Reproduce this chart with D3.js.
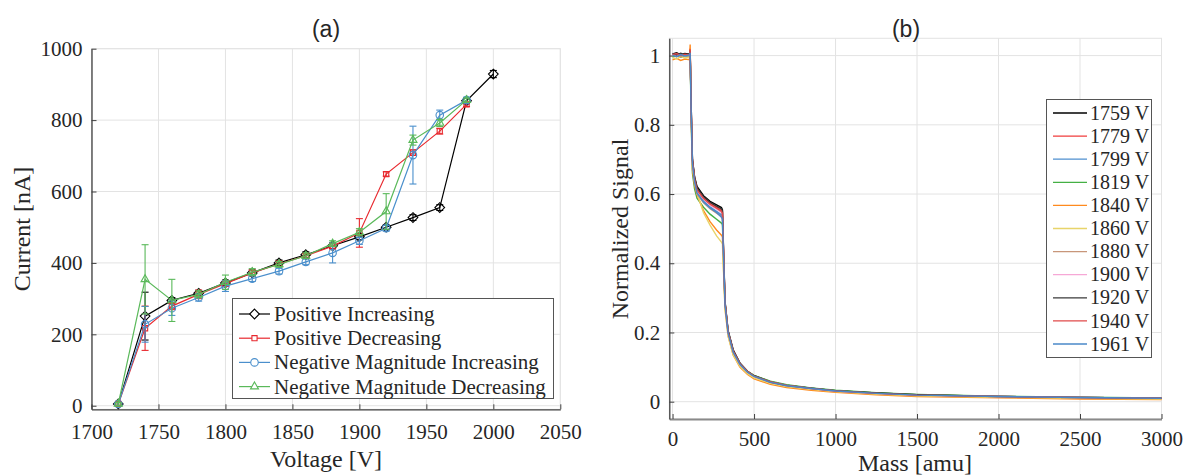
<!DOCTYPE html>
<html>
<head>
<meta charset="utf-8">
<script src="https://cdn.jsdelivr.net/npm/d3@7"></script>
<style>
  body { margin: 0; background: #fff; }
  svg { display: block; }
  text { fill: #262626; }
</style>
</head>
<body>
<svg id="chart" width="1185" height="476"></svg>
<script>
// === DATA: panel (a) ===
const voltages = [1720, 1740, 1760, 1780, 1800, 1820, 1840, 1860, 1880, 1900, 1920, 1940, 1960, 1980, 2000];

const posInc    = [5, 251, 295, 315, 344, 372, 400, 423, 448, 473, 500, 527, 555, 854, 929];
const posIncErr = [4, 67, 8, 8, 8, 8, 8, 8, 8, 8, 6, 8, 8, 8, 10];
const posDec    = [5, 217, 279, 312, 342, 372, 397, 420, 447, 484, 649, 709, 769, 844];
const posDecErr = [4, 62, 10, 12, 8, 8, 8, 6, 8, 40, 6, 8, 8, 6];
const negInc    = [5, 228, 273, 303, 335, 356, 377, 403, 428, 462, 497, 702, 814, 856];
const negIncErr = [4, 50, 20, 10, 15, 8, 8, 8, 28, 10, 8, 81, 14, 8];
const negDec    = [5, 354, 295, 312, 346, 374, 396, 420, 454, 486, 544, 744, 792, 856];
const negDecErr = [4, 97, 59, 10, 20, 10, 8, 8, 8, 10, 50, 14, 10, 6];

const voltTicks = [1700, 1750, 1800, 1850, 1900, 1950, 2000, 2050];
const currTicks = [0, 200, 400, 600, 800, 1000];

// === DATA: panel (b) ===
const massPts = [0, 25, 50, 75, 104, 108, 114, 122, 135, 150, 190, 230, 270, 300, 306, 314, 322,
  341, 372, 413, 460, 500, 600, 700, 850, 1000, 1250, 1500, 2000, 2500, 3000];

const sig1759 = [1.005, 1.008, 1.002, 1.006, 1.004, 1.01, 0.86, 0.70, 0.65, 0.622, 0.595, 0.579, 0.569, 0.561, 0.555, 0.42, 0.29,
  0.205, 0.15, 0.112, 0.088, 0.075, 0.058, 0.048, 0.039, 0.032, 0.025, 0.020, 0.015, 0.012, 0.010];
const sig1779 = [1.0, 1.004, 0.998, 1.002, 1.0, 1.02, 0.85, 0.695, 0.645, 0.615, 0.59, 0.574, 0.562, 0.553, 0.548, 0.41, 0.285,
  0.2, 0.146, 0.11, 0.087, 0.074, 0.057, 0.047, 0.038, 0.031, 0.024, 0.019, 0.014, 0.011, 0.009];
const sig1799 = [1.002, 0.998, 1.004, 1.0, 0.997, 1.005, 0.84, 0.69, 0.638, 0.605, 0.58, 0.563, 0.55, 0.54, 0.535, 0.40, 0.28,
  0.198, 0.143, 0.108, 0.085, 0.073, 0.056, 0.046, 0.038, 0.031, 0.024, 0.019, 0.015, 0.012, 0.010];
const sig1819 = [0.996, 1.0, 0.995, 0.998, 1.001, 1.0, 0.82, 0.66, 0.615, 0.588, 0.562, 0.542, 0.527, 0.516, 0.512, 0.39, 0.28,
  0.2, 0.145, 0.11, 0.088, 0.076, 0.059, 0.049, 0.04, 0.033, 0.026, 0.021, 0.016, 0.013, 0.011];
const sig1840 = [0.988, 0.992, 0.986, 0.99, 0.988, 1.032, 0.83, 0.67, 0.625, 0.598, 0.552, 0.52, 0.496, 0.481, 0.476, 0.37, 0.27,
  0.19, 0.135, 0.1, 0.079, 0.066, 0.05, 0.041, 0.033, 0.027, 0.02, 0.015, 0.011, 0.008, 0.006];
const sig1860 = [0.995, 0.99, 0.998, 0.993, 0.996, 1.0, 0.84, 0.68, 0.635, 0.603, 0.546, 0.51, 0.479, 0.461, 0.456, 0.36, 0.265,
  0.188, 0.135, 0.102, 0.081, 0.069, 0.053, 0.044, 0.036, 0.029, 0.022, 0.017, 0.013, 0.01, 0.008];
const sig1880 = [1.0, 1.003, 0.997, 1.001, 0.999, 1.01, 0.84, 0.685, 0.632, 0.6, 0.575, 0.558, 0.545, 0.535, 0.53, 0.4, 0.28,
  0.198, 0.143, 0.108, 0.086, 0.073, 0.056, 0.046, 0.038, 0.031, 0.024, 0.019, 0.015, 0.012, 0.010];
const sig1900 = [1.004, 1.0, 1.006, 0.999, 1.003, 1.012, 0.85, 0.69, 0.64, 0.61, 0.585, 0.568, 0.556, 0.547, 0.542, 0.41, 0.283,
  0.2, 0.145, 0.109, 0.086, 0.074, 0.057, 0.047, 0.038, 0.031, 0.024, 0.019, 0.015, 0.012, 0.01];
const sig1920 = [1.006, 1.002, 1.007, 1.003, 1.005, 1.015, 0.86, 0.70, 0.648, 0.618, 0.592, 0.576, 0.565, 0.557, 0.552, 0.415, 0.288,
  0.203, 0.148, 0.111, 0.087, 0.075, 0.057, 0.047, 0.039, 0.032, 0.025, 0.02, 0.015, 0.012, 0.01];
const sig1940 = [1.003, 1.006, 1.0, 1.004, 1.002, 1.018, 0.85, 0.695, 0.643, 0.612, 0.587, 0.571, 0.559, 0.55, 0.545, 0.41, 0.285,
  0.201, 0.146, 0.11, 0.087, 0.074, 0.057, 0.047, 0.038, 0.031, 0.024, 0.019, 0.015, 0.012, 0.01];
const sig1961 = [1.001, 0.997, 1.003, 0.999, 1.002, 1.008, 0.84, 0.688, 0.636, 0.603, 0.577, 0.56, 0.547, 0.533, 0.528, 0.4, 0.28,
  0.198, 0.143, 0.108, 0.085, 0.073, 0.056, 0.046, 0.038, 0.031, 0.024, 0.019, 0.015, 0.012, 0.01];

const sigLabels = ["1759 V", "1779 V", "1799 V", "1819 V", "1840 V", "1860 V", "1880 V", "1900 V", "1920 V", "1940 V", "1961 V"];
const massTicks = [0, 500, 1000, 1500, 2000, 2500, 3000];
const sigTicks = [0, 0.2, 0.4, 0.6, 0.8, 1];

const svg = d3.select("#chart");
const serif = "'Liberation Serif', 'Times New Roman', serif";
const sans = "'Liberation Sans', Arial, sans-serif";
const axisColor = "#404040";
const gridColor = "#e3e3e3";

// shared axis helper: grid, inward ticks, tick labels
function drawFrame(g, x, y, xTicks, yTicks, xFmt, yFmt, bottomStroke, xPad) {
  const [x0, x1] = x.range();
  const [y0, y1] = y.range();

  g.append("rect")
    .attr("x", x0).attr("y", y1)
    .attr("width", x1 - x0).attr("height", y0 - y1)
    .attr("fill", "none").attr("stroke", gridColor);

  g.selectAll(".gx").data(xTicks).join("line")
    .attr("x1", d => x(d)).attr("x2", d => x(d))
    .attr("y1", y0).attr("y2", y1)
    .attr("stroke", gridColor);
  g.selectAll(".gy").data(yTicks).join("line")
    .attr("y1", d => y(d)).attr("y2", d => y(d))
    .attr("x1", x0).attr("x2", x1)
    .attr("stroke", gridColor);

  const xa = g.append("g").attr("transform", `translate(0,${y0})`)
    .call(d3.axisBottom(x).tickValues(xTicks).tickFormat(xFmt).tickSizeInner(-5).tickSizeOuter(0).tickPadding(xPad));
  const ya = g.append("g").attr("transform", `translate(${x0},0)`)
    .call(d3.axisLeft(y).tickValues(yTicks).tickFormat(yFmt).tickSizeInner(-5).tickSizeOuter(0).tickPadding(9));

  [xa, ya].forEach(a => {
    a.attr("font-family", null).attr("font-size", null);
    a.selectAll("text").style("font-family", serif).style("font-size", "21px").attr("fill", "#262626");
    a.selectAll(".tick line").attr("stroke", axisColor);
  });
  xa.select(".domain").attr("stroke", bottomStroke.color).attr("stroke-width", bottomStroke.width);
  ya.select(".domain").attr("stroke", axisColor).attr("stroke-width", 1.3);
  xa.selectAll("text").attr("dy", "0.71em");
}

function label(g, txt, size, family) {
  return g.append("text").style("font-family", family).style("font-size", size + "px").text(txt);
}

// === PANEL (a) ===
const xa = d3.scaleLinear().domain([1700, 2050]).range([91.5, 560.3]);
const ya = d3.scaleLinear().domain([-10, 1000]).range([409.3, 48.7]);
const gA = svg.append("g");

drawFrame(gA, xa, ya, voltTicks, currTicks, d3.format("d"), d3.format("d"), { color: axisColor, width: 1.3 }, 15);

const seriesA = [
  { name: "Positive Increasing", vals: posInc, err: posIncErr, color: "#000000", marker: "diamond" },
  { name: "Positive Decreasing", vals: posDec, err: posDecErr, color: "#e8292f", marker: "square" },
  { name: "Negative Magnitude Increasing", vals: negInc, err: negIncErr, color: "#4a8fcc", marker: "circle" },
  { name: "Negative Magnitude Decreasing", vals: negDec, err: negDecErr, color: "#5ab95a", marker: "triangle" }
];

const symbols = {
  diamond: d3.symbol().type(d3.symbolDiamond2 || d3.symbolDiamond).size(60),
  square: d3.symbol().type(d3.symbolSquare2 || d3.symbolSquare).size(34),
  circle: d3.symbol().type(d3.symbolCircle).size(44),
  triangle: d3.symbol().type(d3.symbolTriangle2 || d3.symbolTriangle).size(46)
};

const lineA = d3.line().x(d => xa(d.v)).y(d => ya(d.c));

seriesA.forEach(s => {
  const pts = s.vals.map((c, i) => ({ v: voltages[i], c: c, e: s.err[i] }));
  const sg = gA.append("g");

  // error bars
  const eb = sg.selectAll(".eb").data(pts).join("g").attr("stroke", s.color).attr("stroke-width", 1.1);
  eb.append("line")
    .attr("x1", d => xa(d.v)).attr("x2", d => xa(d.v))
    .attr("y1", d => ya(d.c - d.e)).attr("y2", d => ya(d.c + d.e));
  eb.append("line")
    .attr("x1", d => xa(d.v) - 3.5).attr("x2", d => xa(d.v) + 3.5)
    .attr("y1", d => ya(d.c - d.e)).attr("y2", d => ya(d.c - d.e));
  eb.append("line")
    .attr("x1", d => xa(d.v) - 3.5).attr("x2", d => xa(d.v) + 3.5)
    .attr("y1", d => ya(d.c + d.e)).attr("y2", d => ya(d.c + d.e));

  sg.append("path").datum(pts)
    .attr("d", lineA)
    .attr("fill", "none").attr("stroke", s.color).attr("stroke-width", 1.2);

  sg.selectAll(".mk").data(pts).join("path")
    .attr("d", symbols[s.marker])
    .attr("transform", d => `translate(${xa(d.v)},${ya(d.c)})`)
    .attr("fill", "none").attr("stroke", s.color).attr("stroke-width", 1.1);
});

// legend (a)
const legA = gA.append("g");
legA.append("rect")
  .attr("x", 232.5).attr("y", 298.5).attr("width", 321).attr("height", 100)
  .attr("fill", "#fff").attr("stroke", "#555").attr("stroke-width", 1);
seriesA.forEach((s, i) => {
  const cy = 314 + i * 24.2;
  legA.append("line").attr("x1", 239).attr("x2", 270).attr("y1", cy).attr("y2", cy)
    .attr("stroke", s.color).attr("stroke-width", 1.2);
  legA.append("path").attr("d", symbols[s.marker]).attr("transform", `translate(254.5,${cy})`)
    .attr("fill", "#fff").attr("stroke", s.color).attr("stroke-width", 1.1);
  label(legA, s.name, 21, serif).attr("x", 274).attr("y", cy).attr("dy", "0.33em");
});

label(gA, "(a)", 23, sans).attr("x", 326).attr("y", 37).attr("text-anchor", "middle").attr("fill", "#000");
label(gA, "Voltage [V]", 24, serif).attr("x", 326).attr("y", 467).attr("text-anchor", "middle");
label(gA, "Current [nA]", 24, serif).attr("transform", "translate(22,229) rotate(-90)").attr("dy", "0.35em")
  .attr("text-anchor", "middle");

// === PANEL (b) ===
const xb = d3.scaleLinear().domain([-20, 3000]).range([669.3, 1161.5]);
const yb = d3.scaleLinear().domain([-0.05, 1.05]).range([419, 38.3]);
const gB = svg.append("g");

drawFrame(gB, xb, yb, massTicks, sigTicks, d3.format("d"), d => String(+d.toFixed(1)), { color: "#8a8a8a", width: 2 }, 12);

const signals = [sig1759, sig1779, sig1799, sig1819, sig1840, sig1860, sig1880, sig1900, sig1920, sig1940, sig1961];
const sigColors = ["#000000", "#f03c3c", "#4f8fcf", "#44b044", "#ff8a1e", "#e8d46a", "#c8967a", "#f6a8d6", "#3a3a3a", "#e04a4a", "#4a88c8"];

const lineB = d3.line().x(d => xb(d[0])).y(d => yb(d[1]));
gB.append("g").selectAll("path").data(signals).join("path")
  .attr("d", vals => lineB(vals.map((v, i) => [massPts[i], v])))
  .attr("fill", "none")
  .attr("stroke", (d, i) => sigColors[i])
  .attr("stroke-width", 1.4);

// legend (b)
const legB = gB.append("g");
legB.append("rect")
  .attr("x", 1046.5).attr("y", 99.5).attr("width", 105).attr("height", 258)
  .attr("fill", "#fff").attr("stroke", "#555").attr("stroke-width", 1);
sigLabels.forEach((lab, i) => {
  const cy = 113 + i * 23.1;
  legB.append("line").attr("x1", 1053).attr("x2", 1087).attr("y1", cy).attr("y2", cy)
    .attr("stroke", sigColors[i]).attr("stroke-width", 1.3);
  label(legB, lab, 20, serif).attr("x", 1090).attr("y", cy).attr("dy", "0.33em");
});

label(gB, "(b)", 23, sans).attr("x", 906).attr("y", 37).attr("text-anchor", "middle").attr("fill", "#000");
label(gB, "Mass [amu]", 24, serif).attr("x", 915).attr("y", 471).attr("text-anchor", "middle");
label(gB, "Normalized Signal", 24, serif).attr("transform", "translate(620,229) rotate(-90)").attr("dy", "0.35em")
  .attr("text-anchor", "middle");
</script>
</body>
</html>
